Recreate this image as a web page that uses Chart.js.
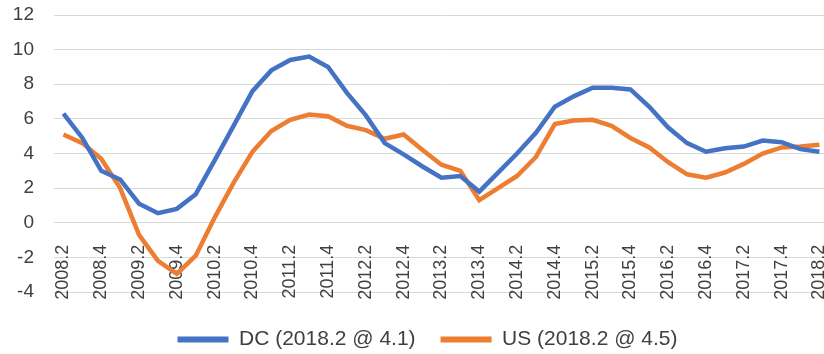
<!DOCTYPE html>
<html>
	<head>
		<meta charset="utf-8">
		<title>DC vs US</title>
		<script src="https://cdn.jsdelivr.net/npm/chart.js"></script>
		<style>
			html, body {
				margin: 0;
				padding: 0;
				overflow: hidden;
				background: #fff;
			}

			#wrap {
				width: 824px;
				height: 354px;
				overflow: hidden;
			}
		</style>
	</head>
	<body>
		<div id="wrap">
			<canvas id="growth" width="855" height="360"></canvas>
		</div>
		<script>
			// quarters, one per point
			const quarters = [
				'2008.2', '2008.3', '2008.4', '2009.1', '2009.2', '2009.3', '2009.4',
				'2010.1', '2010.2', '2010.3', '2010.4', '2011.1', '2011.2', '2011.3', '2011.4',
				'2012.1', '2012.2', '2012.3', '2012.4', '2013.1', '2013.2', '2013.3', '2013.4',
				'2014.1', '2014.2', '2014.3', '2014.4', '2015.1', '2015.2', '2015.3', '2015.4',
				'2016.1', '2016.2', '2016.3', '2016.4', '2017.1', '2017.2', '2017.3', '2017.4',
				'2018.1', '2018.2'
			];

			const dcValues = [
				6.3, 4.9, 3.0, 2.5, 1.1, 0.55, 0.8, 1.65, 3.6, 5.6, 7.6, 8.8, 9.4, 9.6, 9.0,
				7.5, 6.2, 4.6, 3.95, 3.25, 2.6, 2.7, 1.8, 2.9, 4.0, 5.2, 6.7, 7.3, 7.8, 7.8,
				7.7, 6.7, 5.5, 4.6, 4.1, 4.3, 4.4, 4.75, 4.65, 4.25, 4.1
			];

			const usValues = [
				5.1, 4.6, 3.7, 2.0, -0.7, -2.2, -2.95, -1.9, 0.3, 2.3, 4.1, 5.3, 5.95, 6.25, 6.15,
				5.6, 5.35, 4.85, 5.1, 4.2, 3.35, 3.0, 1.3, 2.0, 2.7, 3.8, 5.7, 5.9, 5.95, 5.6,
				4.9, 4.35, 3.5, 2.8, 2.6, 2.9, 3.4, 4.0, 4.35, 4.4, 4.5
			];

			const seriesNames = ['DC (2018.2 @ 4.1)', 'US (2018.2 @ 4.5)'];
			const seriesColors = ['#4472C4', '#ED7D31'];

			const textColor = '#404040';

			const ctx = document.getElementById('growth').getContext('2d');

			new Chart(ctx, {
				type: 'line',
				data: {
					labels: quarters,
					datasets: [{
						label: seriesNames[0],
						data: dcValues,
						borderColor: seriesColors[0],
						backgroundColor: seriesColors[0],
						borderWidth: 4.5,
						pointRadius: 0,
						tension: 0,
						fill: false
					}, {
						label: seriesNames[1],
						data: usValues,
						borderColor: seriesColors[1],
						backgroundColor: seriesColors[1],
						borderWidth: 4.5,
						pointRadius: 0,
						tension: 0,
						fill: false
					}]
				},
				options: {
					responsive: false,
					animation: false,
					layout: {
						padding: { top: 15, left: 0, right: 0, bottom: 0 }
					},
					scales: {
						x: {
							// category labels hang below the zero line
							position: { y: 0 },
							offset: true,
							grid: { display: false },
							border: { display: false },
							ticks: {
								autoSkip: false,
								minRotation: 90,
								maxRotation: 90,
								padding: 14,
								color: textColor,
								font: { family: 'Liberation Sans', size: 18 },
								callback: function (value, index) {
									return index % 2 === 0 ? this.getLabelForValue(value) : '';
								}
							}
						},
						y: {
							min: -4,
							max: 12,
							border: { display: false },
							grid: {
								color: '#d9d9d9',
								lineWidth: 1,
								// invisible tick marks keep the labels off the plot
								drawTicks: true,
								tickLength: 20,
								tickColor: 'rgba(0,0,0,0)'
							},
							ticks: {
								stepSize: 2,
								padding: 0,
								color: textColor,
								font: { family: 'Liberation Sans', size: 19 }
							},
							afterFit: (scale) => {
								scale.width = 54;
							}
						}
					},
					plugins: {
						tooltip: { enabled: false },
						legend: {
							position: 'bottom',
							title: {
								display: true,
								text: '',
								font: { size: 10 },
								padding: 0
							},
							labels: {
								boxWidth: 51,
								boxHeight: 6,
								padding: 25,
								color: textColor,
								font: { family: 'Liberation Sans', size: 21 },
								generateLabels: (chart) => {
									const items = Chart.defaults.plugins.legend.labels.generateLabels(chart);
									items.forEach((item) => {
										item.lineWidth = 0;
									});
									return items;
								}
							}
						}
					}
				}
			});
		</script>
	</body>
</html>
